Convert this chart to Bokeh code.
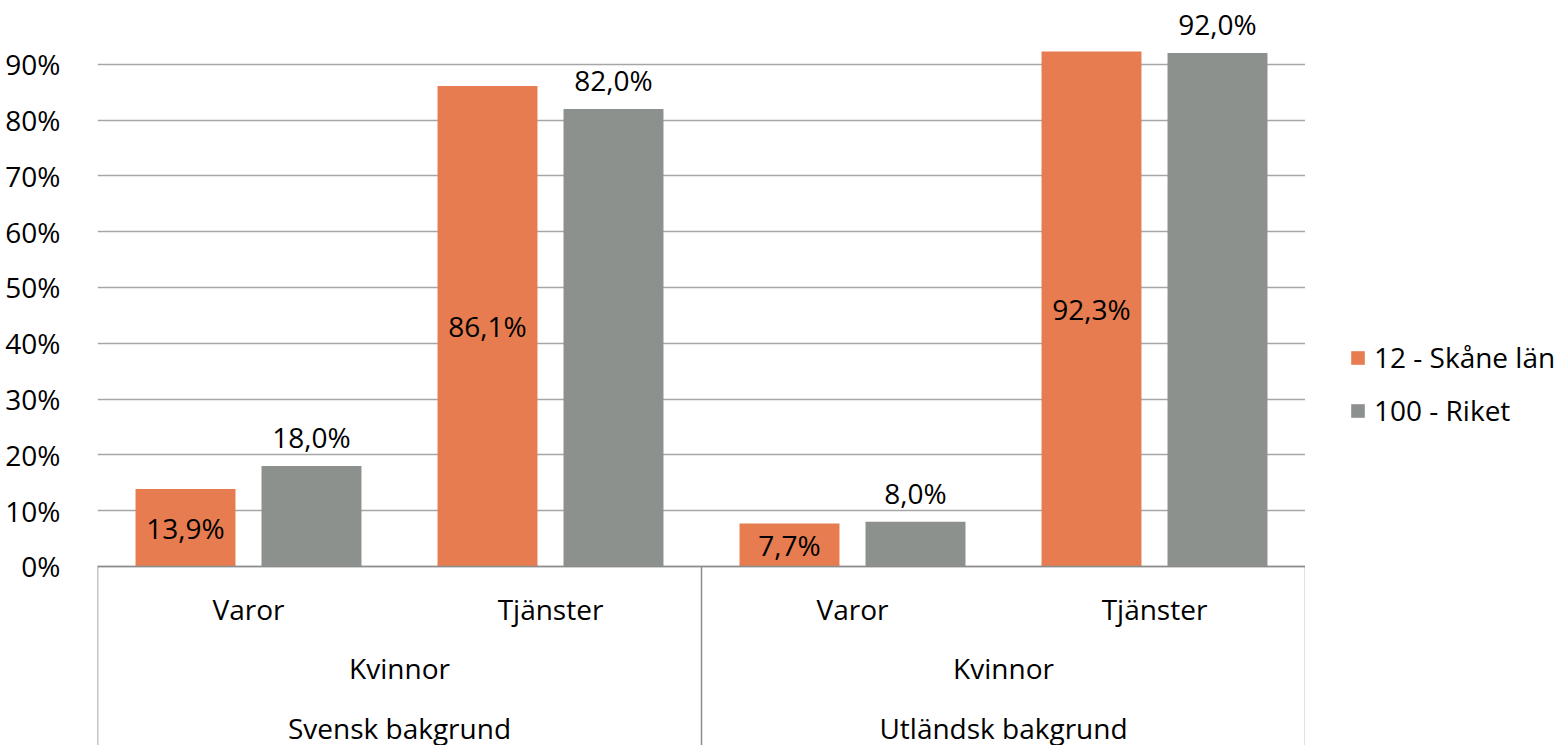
from bokeh.plotting import figure
from bokeh.layouts import row
from bokeh.models import (FactorRange, Range1d, FixedTicker, PrintfTickFormatter, ColumnDataSource,
                          Span, Legend, LegendItem)
from bokeh.transform import dodge
from bokeh.core.properties import value
from bokeh.embed import file_html
from bokeh.resources import INLINE

# ---- data ----
backgrounds = ["Svensk bakgrund", "Utländsk bakgrund"]
gender = "Kvinnor"
types = ["Varor", "Tjänster"]
series_names = ["12 - Skåne län", "100 - Riket"]
skane = [13.9, 86.1, 7.7, 92.3]
riket = [18.0, 82.0, 8.0, 92.0]
y_ticks = [0, 10, 20, 30, 40, 50, 60, 70, 80, 90]

ORANGE = "#E67C4F"
GRAY = "#8C918D"
GRID = "#A6A6A6"
FONT = "Open Sans"
FS = "28px"

factors = [(b, t) for b in backgrounds for t in types]

def fmt(v):
    return f"{v:.1f}".replace(".", ",") + "%"

src = ColumnDataSource(dict(
    cat=factors, skane=skane, riket=riket,
    skane_half=[v / 2 for v in skane],
    skane_lbl=[fmt(v) for v in skane], riket_lbl=[fmt(v) for v in riket],
))

H = 745
W_MAIN = 1305
W_LEG = 253
Y0, Y1 = -32.08, 101.43

p = figure(width=W_MAIN, height=H, output_backend="svg", toolbar_location=None,
           x_range=FactorRange(*factors, range_padding=0, group_padding=0, factor_padding=0),
           y_range=Range1d(Y0, Y1), x_axis_location=None,
           min_border_left=97, min_border_right=0, min_border_top=0, min_border_bottom=0)
p.outline_line_color = None
p.background_fill_color = "white"
p.border_fill_color = "white"

p.xgrid.visible = False
p.ygrid.ticker = FixedTicker(ticks=y_ticks)
p.ygrid.grid_line_color = GRID
p.ygrid.grid_line_width = 1.5

ax = p.yaxis[0]
ax.ticker = FixedTicker(ticks=y_ticks)
ax.formatter = PrintfTickFormatter(format="%d%%")
ax.axis_line_color = None
ax.major_tick_line_color = None
ax.minor_tick_line_color = None
ax.major_label_text_font = FONT
ax.major_label_text_font_size = FS
ax.major_label_text_color = "black"
ax.major_label_standoff = 31

OFF = 0.2086
BW = 0.331
p.vbar(x=dodge("cat", -OFF, range=p.x_range), top="skane", width=BW, bottom=0,
       source=src, fill_color=ORANGE, line_color=None)
p.vbar(x=dodge("cat", OFF, range=p.x_range), top="riket", width=BW, bottom=0,
       source=src, fill_color=GRAY, line_color=None)

p.text(x=dodge("cat", -OFF, range=p.x_range), y="skane_half", text="skane_lbl", source=src,
       text_font=value(FONT), text_font_size=FS, text_align="center", text_baseline="middle",
       text_color="black")
p.text(x=dodge("cat", OFF, range=p.x_range), y="riket", text="riket_lbl", source=src,
       text_font=value(FONT), text_font_size=FS, text_align="center", text_baseline="middle",
       y_offset=-29, text_color="black")

# category table below the axis
p.add_layout(Span(location=0, dimension="width", line_color="#8C8C8C", line_width=1.5))
edges = [(backgrounds[0], types[0], -0.5), (backgrounds[1], types[0], -0.5), (backgrounds[1], types[1], 0.5)]
p.segment(x0=edges, x1=edges, y0=[0] * 3, y1=[Y0] * 3, line_color="#8C8C8C", line_width=1.5)

p.text(x=factors, y=[-7.53] * 4, text=[t for b in backgrounds for t in types],
       text_font=value(FONT), text_font_size=FS, text_align="center", text_baseline="middle",
       text_color="black")
p.text(x=backgrounds, y=[-18.28] * 2, text=[gender] * 2,
       text_font=value(FONT), text_font_size=FS, text_align="center", text_baseline="middle",
       text_color="black")
p.text(x=backgrounds, y=[-29.03] * 2, text=backgrounds,
       text_font=value(FONT), text_font_size=FS, text_align="center", text_baseline="middle",
       text_color="black")

# legend panel (legend swatches use off-screen proxy renderers)
q = figure(width=W_LEG, height=H, output_backend="svg", toolbar_location=None,
           x_range=Range1d(0, 1), y_range=Range1d(0, 1),
           x_axis_location=None, y_axis_location=None,
           min_border_left=0, min_border_right=0, min_border_top=0, min_border_bottom=0)
q.outline_line_color = None
q.grid.visible = False
q.background_fill_color = "white"
q.border_fill_color = "white"
proxy = ColumnDataSource(dict(x=[-10.0], top=[-10.0]))
l1 = q.vbar(x="x", top="top", width=0.1, source=proxy, fill_color=ORANGE, line_color=None)
l2 = q.vbar(x="x", top="top", width=0.1, source=proxy, fill_color=GRAY, line_color=None)

legend = Legend(items=[LegendItem(label=series_names[0], renderers=[l1]),
                       LegendItem(label=series_names[1], renderers=[l2])],
                location=(44, 315), padding=0, margin=0, border_line_color=None,
                background_fill_alpha=0, glyph_width=17, glyph_height=17,
                label_height=40, spacing=13, label_standoff=8,
                label_text_font=FONT, label_text_font_size=FS, label_text_color="black")
q.add_layout(legend)

layout = row(p, q, spacing=0)
open("out.html", "w").write(file_html(layout, INLINE))
